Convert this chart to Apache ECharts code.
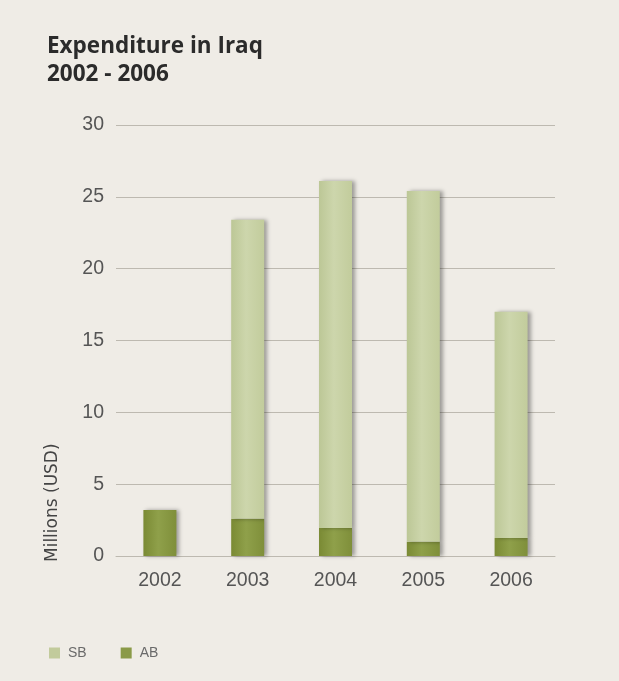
<!DOCTYPE html>
<html>
<head>
<meta charset="utf-8">
<script src="https://cdn.jsdelivr.net/npm/echarts@6/dist/echarts.min.js"></script>
<style>
html,body{margin:0;padding:0;background:#efece6;}
#chart{width:619px;height:681px;}
</style>
</head>
<body>
<div id="chart"></div>
<script>
var years = ['2002','2003','2004','2005','2006'];
var abValues = [3.2, 2.6, 1.95, 1.0, 1.25];
var sbValues = [0, 20.8, 24.15, 24.4, 15.75];
var yTicks = [0, 5, 10, 15, 20, 25, 30];

function grad(c1, c2, c3) {
  return new echarts.graphic.LinearGradient(0, 0, 1, 0, [
    {offset: 0, color: c1}, {offset: 0.45, color: c2}, {offset: 1, color: c3}
  ]);
}

var chart = echarts.init(document.getElementById('chart'));
chart.setOption({
  backgroundColor: '#efece6',
  animation: false,
  title: {
    text: 'Expenditure in Iraq\n2002 - 2006',
    left: 42, top: 28,
    textStyle: {fontFamily: 'Open Sans', fontWeight: 'bold', fontSize: 22.5, color: '#2b2b2b', lineHeight: 28}
  },
  legend: {
    left: 44, top: 641, itemWidth: 11, itemHeight: 11, itemGap: 34,
    icon: 'rect',
    data: [
      {name: 'SB', itemStyle: {color: '#c2cb9c'}},
      {name: 'AB', itemStyle: {color: '#8a9a48'}}
    ],
    textStyle: {fontFamily: 'Liberation Sans', fontSize: 14, color: '#6a6a6a', padding: [0, 0, 0, 3]}
  },
  grid: {left: 116, right: 64, top: 125, bottom: 125},
  xAxis: {
    type: 'category', data: years,
    axisLine: {show: true, lineStyle: {color: '#bdb9b0'}},
    axisTick: {show: false},
    axisLabel: {fontFamily: 'Liberation Sans', fontSize: 19.5, color: '#555', margin: 15}
  },
  yAxis: {
    type: 'value', min: yTicks[0], max: yTicks[yTicks.length - 1], interval: 5,
    axisLine: {show: false}, axisTick: {show: false},
    splitLine: {lineStyle: {color: '#bdb9b0', width: 1}},
    axisLabel: {fontFamily: 'Liberation Sans', fontSize: 19.5, color: '#555', margin: 12}
  },
  graphic: [{
    type: 'text', x: 53, y: 562, rotation: Math.PI / 2,
    style: {text: 'Millions (USD)', fontFamily: 'DejaVu Sans', fontSize: 17, fill: '#444',
            textAlign: 'left', textVerticalAlign: 'middle'}
  }],
  series: [
    {
      name: 'AB', type: 'bar', stack: 'total', data: abValues, barWidth: 33,
      itemStyle: {color: grad('#7a8a34', '#8fa04a', '#7f8f3a'),
                  shadowColor: 'rgba(0,0,0,0.35)', shadowBlur: 4, shadowOffsetX: 3}
    },
    {
      name: 'SB', type: 'bar', stack: 'total', data: sbValues, barWidth: 33,
      itemStyle: {color: grad('#bcc796', '#cdd6ac', '#c2cc9c'),
                  shadowColor: 'rgba(0,0,0,0.35)', shadowBlur: 4, shadowOffsetX: 3}
    }
  ]
});
</script>
</body>
</html>
